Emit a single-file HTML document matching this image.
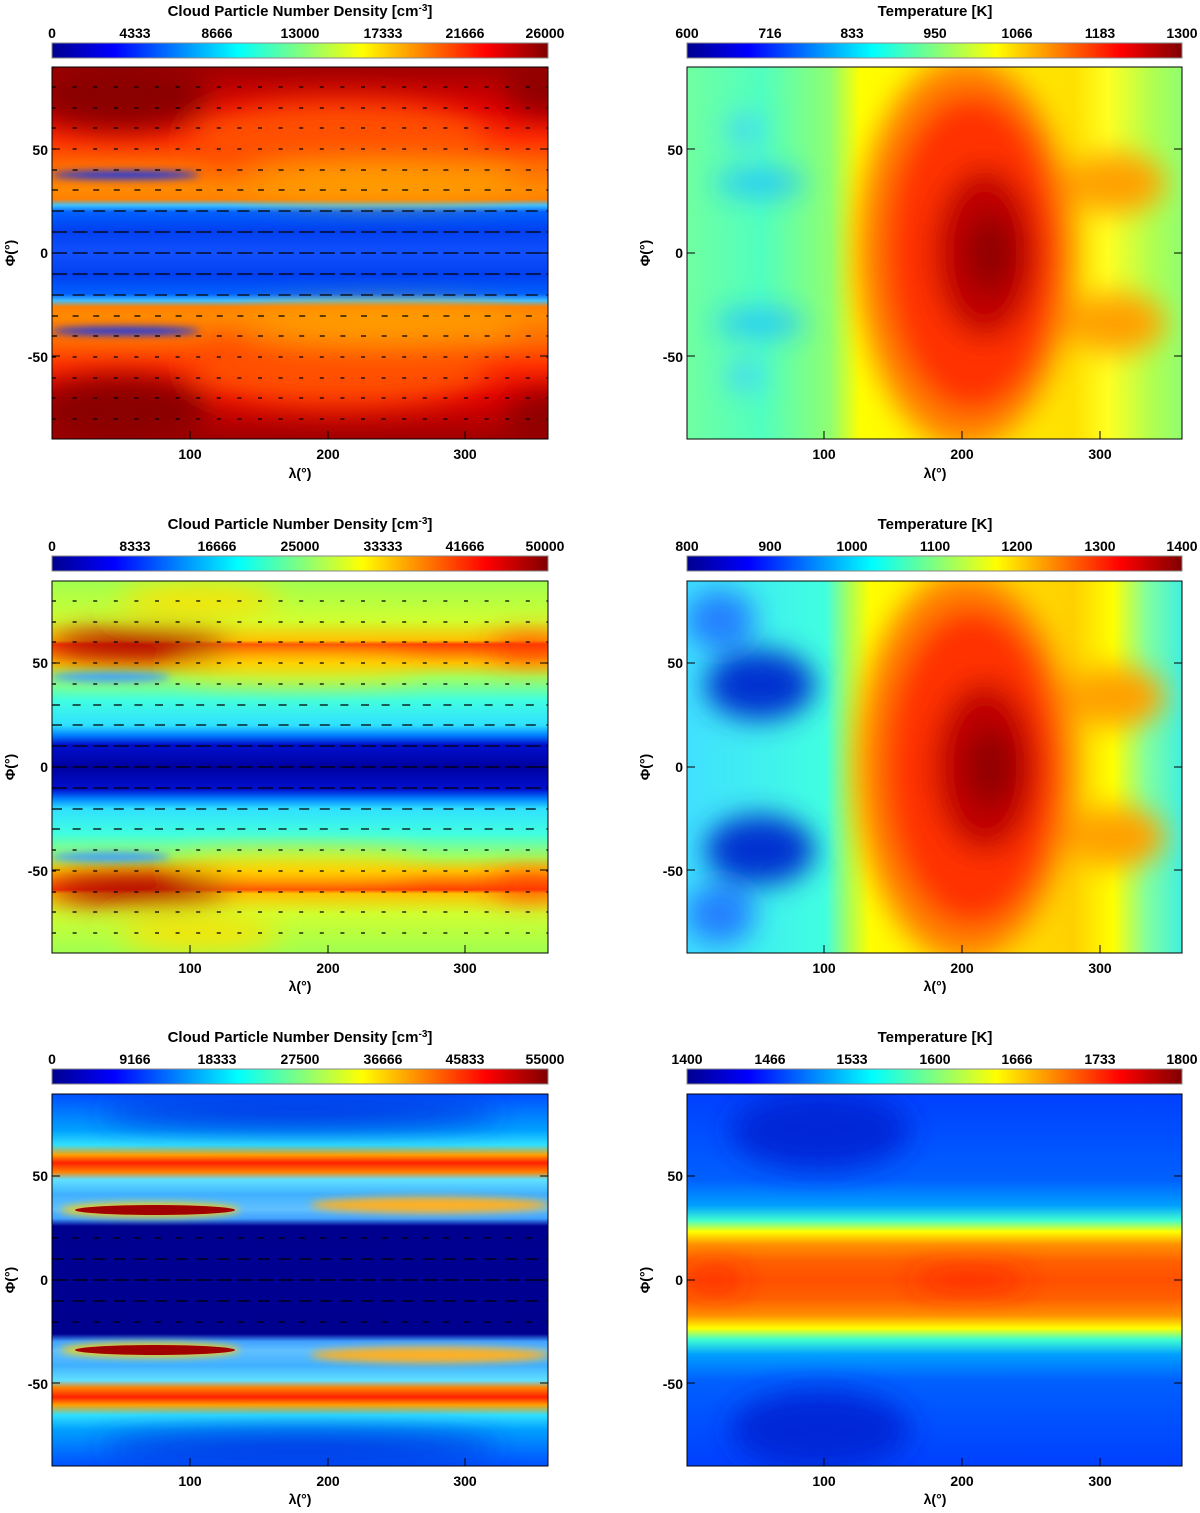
<!DOCTYPE html>
<html><head><meta charset="utf-8"><style>
html,body{margin:0;padding:0;background:#fff;}
svg text{font-family:"Liberation Sans",sans-serif;font-weight:bold;fill:#000;}
</style></head><body>
<svg width="1200" height="1508" viewBox="0 0 1200 1508" xmlns="http://www.w3.org/2000/svg">
<defs>
<filter id="b" x="-50%" y="-50%" width="200%" height="200%"><feGaussianBlur stdDeviation="14"/></filter>
<filter id="s" x="-50%" y="-50%" width="200%" height="200%"><feGaussianBlur stdDeviation="4"/></filter>
<linearGradient id="jet" x1="0" x2="1" y1="0" y2="0">
<stop offset="0" stop-color="#00008f"/><stop offset=".125" stop-color="#0000ff"/><stop offset=".375" stop-color="#00ffff"/><stop offset=".625" stop-color="#ffff00"/><stop offset=".875" stop-color="#ff0000"/><stop offset="1" stop-color="#800000"/>
</linearGradient>
<linearGradient id="g1" x1="0" x2="0" y1="0" y2="1">
<stop offset="0" stop-color="#a00000"/><stop offset=".116" stop-color="#e00000"/><stop offset=".196" stop-color="#ff3000"/><stop offset=".263" stop-color="#ff6a00"/><stop offset=".33" stop-color="#ff8a00"/><stop offset=".355" stop-color="#ff8000"/><stop offset=".372" stop-color="#40c0ff"/><stop offset=".39" stop-color="#0060ff"/><stop offset=".44" stop-color="#0040f0"/><stop offset=".5" stop-color="#1050ff"/>
<stop offset=".56" stop-color="#0040f0"/><stop offset=".61" stop-color="#0060ff"/><stop offset=".628" stop-color="#40c0ff"/><stop offset=".645" stop-color="#ff8000"/><stop offset=".67" stop-color="#ff8a00"/><stop offset=".737" stop-color="#ff6a00"/><stop offset=".804" stop-color="#ff3000"/><stop offset=".884" stop-color="#e00000"/><stop offset="1" stop-color="#a00000"/>
</linearGradient>
<linearGradient id="t1" x1="0" x2="1" y1="0" y2="0">
<stop offset="0" stop-color="#70ffa0"/><stop offset=".15" stop-color="#50ffc0"/><stop offset=".29" stop-color="#90ff70"/><stop offset=".35" stop-color="#ffff00"/><stop offset=".78" stop-color="#ffe000"/><stop offset=".85" stop-color="#ffff20"/><stop offset=".94" stop-color="#b0ff50"/><stop offset="1" stop-color="#90ff70"/>
</linearGradient>
<linearGradient id="g3" x1="0" x2="0" y1="0" y2="1">
<stop offset="0" stop-color="#a0ff50"/><stop offset=".105" stop-color="#d0ff30"/><stop offset=".16" stop-color="#ffc000"/><stop offset=".17" stop-color="#ff4000"/><stop offset=".22" stop-color="#ffc000"/><stop offset=".26" stop-color="#a0ff60"/><stop offset=".32" stop-color="#40ffe0"/><stop offset=".388" stop-color="#30e0ff"/><stop offset=".415" stop-color="#0080ff"/><stop offset=".44" stop-color="#0010d0"/><stop offset=".5" stop-color="#0000a0"/>
<stop offset=".56" stop-color="#0010d0"/><stop offset=".585" stop-color="#0080ff"/><stop offset=".612" stop-color="#30e0ff"/><stop offset=".68" stop-color="#40ffe0"/><stop offset=".74" stop-color="#a0ff60"/><stop offset=".78" stop-color="#ffc000"/><stop offset=".83" stop-color="#ff4000"/><stop offset=".84" stop-color="#ffc000"/><stop offset=".895" stop-color="#d0ff30"/><stop offset="1" stop-color="#a0ff50"/>
</linearGradient>
<linearGradient id="t2" x1="0" x2="1" y1="0" y2="0">
<stop offset="0" stop-color="#40e0ff"/><stop offset=".28" stop-color="#40ffe0"/><stop offset=".33" stop-color="#b0ff50"/><stop offset=".37" stop-color="#ffff00"/><stop offset=".78" stop-color="#ffd000"/><stop offset=".86" stop-color="#ffff00"/><stop offset=".93" stop-color="#80ffa0"/><stop offset="1" stop-color="#40f0e0"/>
</linearGradient>
<linearGradient id="g5" x1="0" x2="0" y1="0" y2="1">
<stop offset="0" stop-color="#0050ff"/><stop offset=".097" stop-color="#00a0ff"/><stop offset=".137" stop-color="#30e0ff"/><stop offset=".164" stop-color="#ffa000"/><stop offset=".185" stop-color="#ff2000"/><stop offset=".21" stop-color="#ff8000"/><stop offset=".23" stop-color="#60e0ff"/><stop offset=".27" stop-color="#40b0ff"/><stop offset=".31" stop-color="#60c0ff"/><stop offset=".335" stop-color="#40a0ff"/><stop offset=".355" stop-color="#00008f"/><stop offset=".5" stop-color="#000090"/>
<stop offset=".645" stop-color="#00008f"/><stop offset=".665" stop-color="#40a0ff"/><stop offset=".69" stop-color="#60c0ff"/><stop offset=".73" stop-color="#40b0ff"/><stop offset=".77" stop-color="#60e0ff"/><stop offset=".79" stop-color="#ff8000"/><stop offset=".815" stop-color="#ff2000"/><stop offset=".836" stop-color="#ffa000"/><stop offset=".863" stop-color="#30e0ff"/><stop offset=".903" stop-color="#00a0ff"/><stop offset="1" stop-color="#0050ff"/>
</linearGradient>
<linearGradient id="g6" x1="0" x2="0" y1="0" y2="1">
<stop offset="0" stop-color="#0040ff"/><stop offset=".23" stop-color="#0060ff"/><stop offset=".3" stop-color="#00a0ff"/><stop offset=".34" stop-color="#40ffd0"/><stop offset=".37" stop-color="#ffff00"/><stop offset=".405" stop-color="#ff9000"/><stop offset=".45" stop-color="#ff6000"/><stop offset=".5" stop-color="#ff5000"/>
<stop offset=".55" stop-color="#ff6000"/><stop offset=".595" stop-color="#ff9000"/><stop offset=".63" stop-color="#ffff00"/><stop offset=".66" stop-color="#40ffd0"/><stop offset=".7" stop-color="#00a0ff"/><stop offset=".77" stop-color="#0060ff"/><stop offset="1" stop-color="#0040ff"/>
</linearGradient>
<clipPath id="c1"><rect x="52" y="67" width="496" height="372"/></clipPath>
<clipPath id="c2"><rect x="687" y="67" width="495" height="372"/></clipPath>
<clipPath id="c3"><rect x="52" y="581" width="496" height="372"/></clipPath>
<clipPath id="c4"><rect x="687" y="581" width="495" height="372"/></clipPath>
<clipPath id="c5"><rect x="52" y="1094" width="496" height="372"/></clipPath>
<clipPath id="c6"><rect x="687" y="1094" width="495" height="372"/></clipPath>
</defs>

<!-- Panel 1 -->
<g clip-path="url(#c1)">
<rect x="52" y="67" width="496" height="372" fill="url(#g1)"/>
<g filter="url(#b)">
<ellipse cx="340" cy="140" rx="150" ry="40" fill="#ff5000"/>
<ellipse cx="340" cy="366" rx="150" ry="40" fill="#ff5000"/>
<ellipse cx="120" cy="95" rx="90" ry="35" fill="#8a0000"/>
<ellipse cx="120" cy="411" rx="90" ry="35" fill="#8a0000"/>
<ellipse cx="545" cy="85" rx="40" ry="30" fill="#900000"/>
<ellipse cx="545" cy="421" rx="40" ry="30" fill="#900000"/>
<ellipse cx="380" cy="180" rx="140" ry="18" fill="#ffa000"/>
<ellipse cx="380" cy="326" rx="140" ry="18" fill="#ffa000"/>
</g>
<g filter="url(#s)">
<ellipse cx="125" cy="175" rx="75" ry="4" fill="#0030ff"/>
<ellipse cx="125" cy="331" rx="75" ry="4" fill="#0030ff"/>
</g>
<g stroke="#000" stroke-width="1.3">
<line x1="52" x2="552" y1="253" y2="253" stroke-dasharray="15 5.6"/>
<line x1="52" x2="552" y1="232" y2="232" stroke-dasharray="15 5.6"/>
<line x1="52" x2="552" y1="274" y2="274" stroke-dasharray="15 5.6"/>
<line x1="52" x2="552" y1="211" y2="211" stroke-dasharray="12 8.6"/>
<line x1="52" x2="552" y1="295" y2="295" stroke-dasharray="12 8.6"/>
<line x1="52" x2="552" y1="190" y2="190" stroke-dasharray="6 14.6"/>
<line x1="52" x2="552" y1="316" y2="316" stroke-dasharray="6 14.6"/>
<line x1="52" x2="552" y1="170" y2="170" stroke-dasharray="5 15.6"/>
<line x1="52" x2="552" y1="336" y2="336" stroke-dasharray="5 15.6"/>
<line x1="52" x2="552" y1="149" y2="149" stroke-dasharray="4 16.6"/>
<line x1="52" x2="552" y1="357" y2="357" stroke-dasharray="4 16.6"/>
<line x1="52" x2="552" y1="128" y2="128" stroke-dasharray="4 16.6"/>
<line x1="52" x2="552" y1="378" y2="378" stroke-dasharray="4 16.6"/>
<line x1="52" x2="552" y1="108" y2="108" stroke-dasharray="4 16.6"/>
<line x1="52" x2="552" y1="398" y2="398" stroke-dasharray="4 16.6"/>
<line x1="52" x2="552" y1="87" y2="87" stroke-dasharray="4 16.6"/>
<line x1="52" x2="552" y1="419" y2="419" stroke-dasharray="4 16.6"/>
</g>
</g>

<!-- Panel 2 -->
<g clip-path="url(#c2)">
<rect x="687" y="67" width="495" height="372" fill="url(#t1)"/>
<g filter="url(#b)">
<ellipse cx="1115" cy="183" rx="50" ry="30" fill="#ffa000"/>
<ellipse cx="1115" cy="323" rx="50" ry="30" fill="#ffa000"/>
<ellipse cx="965" cy="253" rx="108" ry="195" fill="#ff8000"/>
<ellipse cx="972" cy="253" rx="88" ry="160" fill="#ff3000"/>
<ellipse cx="985" cy="253" rx="52" ry="85" fill="#c00000"/>
<ellipse cx="990" cy="253" rx="25" ry="40" fill="#900000"/>
<ellipse cx="760" cy="183" rx="45" ry="12" fill="#20c0ff"/>
<ellipse cx="760" cy="323" rx="45" ry="12" fill="#20c0ff"/>
<ellipse cx="745" cy="130" rx="18" ry="14" fill="#40d0ff"/>
<ellipse cx="745" cy="376" rx="18" ry="14" fill="#40d0ff"/>
</g>
</g>

<!-- Panel 3 -->
<g clip-path="url(#c3)">
<rect x="52" y="581" width="496" height="372" fill="url(#g3)"/>
<g filter="url(#b)">
<ellipse cx="140" cy="645" rx="90" ry="14" fill="#a00000"/>
<ellipse cx="140" cy="889" rx="90" ry="14" fill="#a00000"/>
<ellipse cx="530" cy="648" rx="40" ry="10" fill="#ff3000"/>
<ellipse cx="530" cy="886" rx="40" ry="10" fill="#ff3000"/>
<ellipse cx="200" cy="600" rx="80" ry="15" fill="#ffe000"/>
<ellipse cx="200" cy="934" rx="80" ry="15" fill="#ffe000"/>
<ellipse cx="300" cy="668" rx="120" ry="10" fill="#ffe000"/>
<ellipse cx="300" cy="866" rx="120" ry="10" fill="#ffe000"/>
</g>
<g filter="url(#s)">
<ellipse cx="110" cy="677" rx="60" ry="5" fill="#40a0ff"/>
<ellipse cx="110" cy="857" rx="60" ry="5" fill="#40a0ff"/>
</g>
<g stroke="#000" stroke-width="1.3">
<line x1="52" x2="552" y1="767" y2="767" stroke-dasharray="15 5.6"/>
<line x1="52" x2="552" y1="746" y2="746" stroke-dasharray="15 5.6"/>
<line x1="52" x2="552" y1="788" y2="788" stroke-dasharray="15 5.6"/>
<line x1="52" x2="552" y1="725" y2="725" stroke-dasharray="10 10.6"/>
<line x1="52" x2="552" y1="809" y2="809" stroke-dasharray="10 10.6"/>
<line x1="52" x2="552" y1="705" y2="705" stroke-dasharray="8 12.6"/>
<line x1="52" x2="552" y1="829" y2="829" stroke-dasharray="8 12.6"/>
<line x1="52" x2="552" y1="684" y2="684" stroke-dasharray="4 16.6"/>
<line x1="52" x2="552" y1="850" y2="850" stroke-dasharray="4 16.6"/>
<line x1="52" x2="552" y1="663" y2="663" stroke-dasharray="4 16.6"/>
<line x1="52" x2="552" y1="871" y2="871" stroke-dasharray="4 16.6"/>
<line x1="52" x2="552" y1="642" y2="642" stroke-dasharray="4 16.6"/>
<line x1="52" x2="552" y1="892" y2="892" stroke-dasharray="4 16.6"/>
<line x1="52" x2="552" y1="622" y2="622" stroke-dasharray="4 16.6"/>
<line x1="52" x2="552" y1="912" y2="912" stroke-dasharray="4 16.6"/>
<line x1="52" x2="552" y1="601" y2="601" stroke-dasharray="4 16.6"/>
<line x1="52" x2="552" y1="933" y2="933" stroke-dasharray="4 16.6"/>
</g>
</g>

<!-- Panel 4 -->
<g clip-path="url(#c4)">
<rect x="687" y="581" width="495" height="372" fill="url(#t2)"/>
<g filter="url(#b)">
<ellipse cx="760" cy="685" rx="55" ry="35" fill="#0030d0"/>
<ellipse cx="760" cy="850" rx="55" ry="35" fill="#0030d0"/>
<ellipse cx="720" cy="620" rx="35" ry="30" fill="#2080ff"/>
<ellipse cx="720" cy="914" rx="35" ry="30" fill="#2080ff"/>
<ellipse cx="1115" cy="697" rx="50" ry="30" fill="#ffa000"/>
<ellipse cx="1115" cy="837" rx="50" ry="30" fill="#ffa000"/>
<ellipse cx="965" cy="767" rx="108" ry="195" fill="#ff8000"/>
<ellipse cx="972" cy="767" rx="88" ry="160" fill="#ff3000"/>
<ellipse cx="985" cy="767" rx="52" ry="85" fill="#c00000"/>
<ellipse cx="990" cy="767" rx="25" ry="40" fill="#900000"/>
</g>
</g>

<!-- Panel 5 -->
<g clip-path="url(#c5)">
<rect x="52" y="1094" width="496" height="372" fill="url(#g5)"/>
<g filter="url(#b)">
<ellipse cx="300" cy="1112" rx="200" ry="14" fill="#0030e0"/>
<ellipse cx="300" cy="1448" rx="200" ry="14" fill="#0030e0"/>
</g>
<g filter="url(#s)">
<ellipse cx="430" cy="1205" rx="120" ry="8" fill="#ffb020"/>
<ellipse cx="430" cy="1355" rx="120" ry="8" fill="#ffb020"/>
<ellipse cx="150" cy="1210" rx="90" ry="7" fill="#ffd000"/>
<ellipse cx="150" cy="1350" rx="90" ry="7" fill="#ffd000"/>
</g>
<ellipse cx="155" cy="1210" rx="80" ry="5" fill="#a00000"/>
<ellipse cx="155" cy="1350" rx="80" ry="5" fill="#a00000"/>
<g stroke="#000" stroke-width="1.3">
<line x1="52" x2="552" y1="1280" y2="1280" stroke-dasharray="15 5.6"/>
<line x1="52" x2="552" y1="1259" y2="1259" stroke-dasharray="12 8.6"/>
<line x1="52" x2="552" y1="1301" y2="1301" stroke-dasharray="12 8.6"/>
<line x1="52" x2="552" y1="1238" y2="1238" stroke-dasharray="6 14.6"/>
<line x1="52" x2="552" y1="1322" y2="1322" stroke-dasharray="6 14.6"/>
</g>
</g>

<!-- Panel 6 -->
<g clip-path="url(#c6)">
<rect x="687" y="1094" width="495" height="372" fill="url(#g6)"/>
<g filter="url(#b)">
<ellipse cx="820" cy="1130" rx="90" ry="40" fill="#0028d8"/>
<ellipse cx="820" cy="1430" rx="90" ry="40" fill="#0028d8"/>
<ellipse cx="970" cy="1280" rx="60" ry="10" fill="#ff2000"/>
<ellipse cx="715" cy="1280" rx="30" ry="10" fill="#ff2000"/>
</g>
</g>

<!-- Frames -->
<g fill="none" stroke="#000" stroke-width="1">
<rect x="52" y="67" width="496" height="372"/><rect x="687" y="67" width="495" height="372"/>
<rect x="52" y="581" width="496" height="372"/><rect x="687" y="581" width="495" height="372"/>
<rect x="52" y="1094" width="496" height="372"/><rect x="687" y="1094" width="495" height="372"/>
</g>

<!-- Colorbars -->
<g stroke="#888" stroke-width="1">
<rect x="52" y="43" width="496" height="15" fill="url(#jet)"/>
<rect x="687" y="43" width="495" height="15" fill="url(#jet)"/>
<rect x="52" y="556" width="496" height="15" fill="url(#jet)"/>
<rect x="687" y="556" width="495" height="15" fill="url(#jet)"/>
<rect x="52" y="1069" width="496" height="15" fill="url(#jet)"/>
<rect x="687" y="1069" width="495" height="15" fill="url(#jet)"/>
</g>

<g font-size="15" text-anchor="middle">
<text x="300" y="16">Cloud Particle Number Density [cm<tspan dy="-5" font-size="10">-3</tspan><tspan dy="5">]</tspan></text>
<text x="935" y="16">Temperature [K]</text>
<text x="300" y="529">Cloud Particle Number Density [cm<tspan dy="-5" font-size="10">-3</tspan><tspan dy="5">]</tspan></text>
<text x="935" y="529">Temperature [K]</text>
<text x="300" y="1042">Cloud Particle Number Density [cm<tspan dy="-5" font-size="10">-3</tspan><tspan dy="5">]</tspan></text>
<text x="935" y="1042">Temperature [K]</text>
</g>
<g font-size="14" text-anchor="middle">
<text x="52" y="38">0</text><text x="135" y="38">4333</text><text x="217" y="38">8666</text><text x="300" y="38">13000</text><text x="383" y="38">17333</text><text x="465" y="38">21666</text><text x="545" y="38">26000</text>
<text x="687" y="38">600</text><text x="770" y="38">716</text><text x="852" y="38">833</text><text x="935" y="38">950</text><text x="1017" y="38">1066</text><text x="1100" y="38">1183</text><text x="1182" y="38">1300</text>
<text x="52" y="551">0</text><text x="135" y="551">8333</text><text x="217" y="551">16666</text><text x="300" y="551">25000</text><text x="383" y="551">33333</text><text x="465" y="551">41666</text><text x="545" y="551">50000</text>
<text x="687" y="551">800</text><text x="770" y="551">900</text><text x="852" y="551">1000</text><text x="935" y="551">1100</text><text x="1017" y="551">1200</text><text x="1100" y="551">1300</text><text x="1182" y="551">1400</text>
<text x="52" y="1064">0</text><text x="135" y="1064">9166</text><text x="217" y="1064">18333</text><text x="300" y="1064">27500</text><text x="383" y="1064">36666</text><text x="465" y="1064">45833</text><text x="545" y="1064">55000</text>
<text x="687" y="1064">1400</text><text x="770" y="1064">1466</text><text x="852" y="1064">1533</text><text x="935" y="1064">1600</text><text x="1017" y="1064">1666</text><text x="1100" y="1064">1733</text><text x="1182" y="1064">1800</text>
</g>

<g font-size="14" text-anchor="middle">
<text x="190" y="459">100</text><text x="328" y="459">200</text><text x="465" y="459">300</text><text x="300" y="478" font-weight="normal">λ(°)</text>
<text x="824" y="459">100</text><text x="962" y="459">200</text><text x="1100" y="459">300</text><text x="935" y="478" font-weight="normal">λ(°)</text>
<text x="190" y="973">100</text><text x="328" y="973">200</text><text x="465" y="973">300</text><text x="300" y="991" font-weight="normal">λ(°)</text>
<text x="824" y="973">100</text><text x="962" y="973">200</text><text x="1100" y="973">300</text><text x="935" y="991" font-weight="normal">λ(°)</text>
<text x="190" y="1486">100</text><text x="328" y="1486">200</text><text x="465" y="1486">300</text><text x="300" y="1504" font-weight="normal">λ(°)</text>
<text x="824" y="1486">100</text><text x="962" y="1486">200</text><text x="1100" y="1486">300</text><text x="935" y="1504" font-weight="normal">λ(°)</text>
</g>
<g font-size="14" text-anchor="end">
<text x="48" y="155">50</text><text x="48" y="258">0</text><text x="48" y="362">-50</text>
<text x="683" y="155">50</text><text x="683" y="258">0</text><text x="683" y="362">-50</text>
<text x="48" y="668">50</text><text x="48" y="772">0</text><text x="48" y="876">-50</text>
<text x="683" y="668">50</text><text x="683" y="772">0</text><text x="683" y="876">-50</text>
<text x="48" y="1181">50</text><text x="48" y="1285">0</text><text x="48" y="1389">-50</text>
<text x="683" y="1181">50</text><text x="683" y="1285">0</text><text x="683" y="1389">-50</text>
</g>
<g font-size="14" text-anchor="middle">
<text transform="translate(15,253) rotate(-90)" font-weight="normal">Φ(°)</text>
<text transform="translate(650,253) rotate(-90)" font-weight="normal">Φ(°)</text>
<text transform="translate(15,767) rotate(-90)" font-weight="normal">Φ(°)</text>
<text transform="translate(650,767) rotate(-90)" font-weight="normal">Φ(°)</text>
<text transform="translate(15,1280) rotate(-90)" font-weight="normal">Φ(°)</text>
<text transform="translate(650,1280) rotate(-90)" font-weight="normal">Φ(°)</text>
</g>
<g stroke="#000" stroke-width="1">
<path d="M52 149h8M52 253h8M52 356h8M540 149h8M540 253h8M540 356h8M190 439v-8M328 439v-8M465 439v-8"/>
<path d="M687 149h8M687 253h8M687 356h8M1174 149h8M1174 253h8M1174 356h8M824 439v-8M962 439v-8M1100 439v-8"/>
<path d="M52 663h8M52 767h8M52 870h8M540 663h8M540 767h8M540 870h8M190 953v-8M328 953v-8M465 953v-8"/>
<path d="M687 663h8M687 767h8M687 870h8M1174 663h8M1174 767h8M1174 870h8M824 953v-8M962 953v-8M1100 953v-8"/>
<path d="M52 1176h8M52 1280h8M52 1383h8M540 1176h8M540 1280h8M540 1383h8M190 1466v-8M328 1466v-8M465 1466v-8"/>
<path d="M687 1176h8M687 1280h8M687 1383h8M1174 1176h8M1174 1280h8M1174 1383h8M824 1466v-8M962 1466v-8M1100 1466v-8"/>
</g>
</svg>
</body></html>
